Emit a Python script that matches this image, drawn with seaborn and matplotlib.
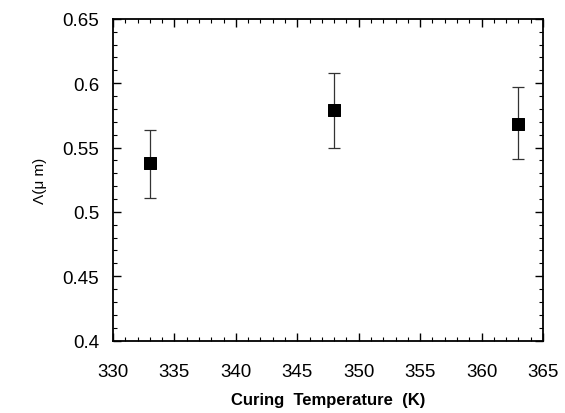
import numpy as np
import pandas as pd
import seaborn as sns
import matplotlib.pyplot as plt
from matplotlib.ticker import MultipleLocator

# data
temperature = [333, 348, 363]
wavelength = [0.538, 0.579, 0.568]
err_low = [0.511, 0.550, 0.541]
err_high = [0.564, 0.608, 0.597]

df = pd.DataFrame({'temp': temperature, 'lam': wavelength})

sns.set_style("ticks")
plt.rcParams['font.family'] = ['Liberation Sans', 'DejaVu Sans']
plt.rcParams['text.color'] = 'black'
plt.rcParams['axes.labelcolor'] = 'black'
plt.rcParams['xtick.color'] = 'black'
plt.rcParams['ytick.color'] = 'black'

fig = plt.figure(figsize=(5.65, 4.14), dpi=100)
ax = fig.add_axes([0.2, 0.175, 0.761, 0.777])

yerr = [np.array(wavelength) - np.array(err_low), np.array(err_high) - np.array(wavelength)]
ax.errorbar(temperature, wavelength, yerr=yerr, fmt='none', ecolor='#333333',
            elinewidth=0.9, capsize=4, capthick=0.9, zorder=2)
sns.scatterplot(data=df, x='temp', y='lam', marker='s', s=80, color='black',
                edgecolor='black', ax=ax, zorder=3, legend=False)

ax.set_xlim(330, 365)
ax.set_ylim(0.4, 0.65)
ax.xaxis.set_major_locator(MultipleLocator(5))
ax.xaxis.set_minor_locator(MultipleLocator(1))
ax.yaxis.set_minor_locator(MultipleLocator(0.01))
ax.set_yticks([0.4, 0.45, 0.5, 0.55, 0.6, 0.65])
ax.set_yticklabels(['0.4', '0.45', '0.5', '0.55', '0.6', '0.65'])

ax.tick_params(which='both', direction='in', top=True, right=True, labelsize=13.5)
ax.tick_params(axis='x', pad=16)
ax.tick_params(axis='y', pad=10)
ax.tick_params(which='major', length=6, width=1)
ax.tick_params(which='minor', length=3, width=0.8)
for s in ax.spines.values():
    s.set_linewidth(1.3)
    s.set_color('black')

ax.set_xlabel("Curing  Temperature  (K)", fontsize=12, fontweight='bold', labelpad=9)
ax.set_ylabel("Λ(μ m)", fontsize=11, labelpad=11)

plt.savefig("out.png", dpi=100)
plt.close()
